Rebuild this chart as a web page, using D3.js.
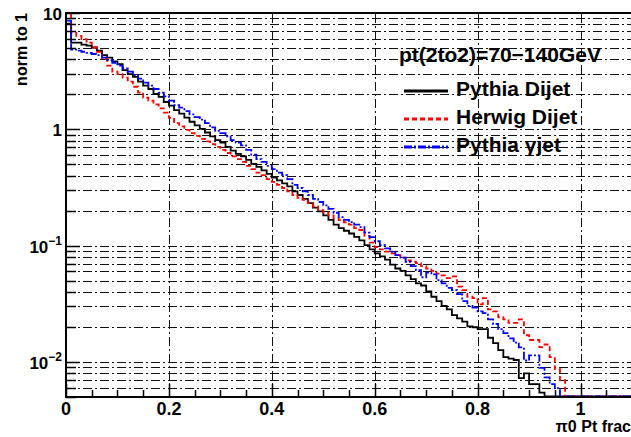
<!DOCTYPE html>
<html>
<head>
<meta charset="utf-8">
<script src="https://cdn.jsdelivr.net/npm/d3@7"></script>
<style>
  body { margin: 0; background: #fff; }
  text { font-family: 'Liberation Sans', Arial, sans-serif; font-weight: bold; fill: #000; }
</style>
</head>
<body>
<div id="chart"></div>
<script>
// histogram contents, one value per bin of width binWidth starting at 0
const binWidth = 0.01;

const pythiaDijet = [
  8.0, 5.5, 5.5, 5.3, 5.2, 5.0, 4.7, 4.3, 4.1, 3.8,
  3.6, 3.2, 2.95, 2.8, 2.55, 2.35, 2.2, 2.0, 1.88, 1.7,
  1.58, 1.45, 1.35, 1.25, 1.15, 1.07, 1.0, 0.93, 0.86, 0.80,
  0.76, 0.70, 0.65, 0.61, 0.58, 0.54, 0.50, 0.47, 0.44, 0.41,
  0.38, 0.36, 0.34, 0.32, 0.29, 0.27, 0.25, 0.23, 0.21, 0.195,
  0.18, 0.165, 0.15, 0.14, 0.133, 0.126, 0.118, 0.11, 0.10, 0.092,
  0.085, 0.08, 0.075, 0.068, 0.063, 0.060, 0.055, 0.051, 0.047, 0.045,
  0.040, 0.036, 0.033, 0.030, 0.028, 0.025, 0.0235, 0.022, 0.020, 0.0197,
  0.019, 0.019, 0.016, 0.0144, 0.0125, 0.0109, 0.0106, 0.0103, 0.0072, 0.0079,
  0.0064, 0.0064, 0.0054
];

const herwigDijet = [
  10.5, 6.7, 6.3, 5.9, 5.5, 5.0, 4.6, 4.0, 3.5, 3.1,
  2.95, 2.75, 2.55, 2.3, 2.05, 1.85, 1.75, 1.62, 1.5, 1.38,
  1.24, 1.12, 1.05, 0.98, 0.92, 0.87, 0.82, 0.78, 0.74, 0.70,
  0.66, 0.62, 0.58, 0.55, 0.52, 0.48, 0.45, 0.42, 0.40, 0.37,
  0.35, 0.33, 0.31, 0.29, 0.27, 0.255, 0.245, 0.23, 0.215, 0.20,
  0.19, 0.18, 0.17, 0.164, 0.157, 0.15, 0.14, 0.135, 0.12, 0.105,
  0.096, 0.092, 0.088, 0.085, 0.082, 0.078, 0.074, 0.072, 0.070, 0.066,
  0.063, 0.060, 0.057, 0.055, 0.052, 0.054, 0.044, 0.041, 0.036, 0.035,
  0.031, 0.035, 0.028, 0.027, 0.024, 0.023, 0.0215, 0.0215, 0.023, 0.0168,
  0.0153, 0.0153, 0.0133, 0.014, 0.0109, 0.0086, 0.0069
];

const pythiaGammaJet = [
  8.5, 4.8, 4.7, 4.6, 4.5, 4.4, 4.3, 4.1, 3.9, 3.7,
  3.5, 3.3, 3.1, 2.9, 2.7, 2.5, 2.35, 2.2, 2.05, 1.9,
  1.75, 1.6, 1.52, 1.42, 1.33, 1.26, 1.2, 1.12, 1.03, 0.96,
  0.92, 0.86, 0.80, 0.76, 0.72, 0.66, 0.60, 0.55, 0.52, 0.48,
  0.45, 0.42, 0.40, 0.37, 0.33, 0.31, 0.29, 0.27, 0.25, 0.235,
  0.22, 0.205, 0.19, 0.174, 0.165, 0.158, 0.15, 0.143, 0.128, 0.117,
  0.108, 0.10, 0.094, 0.088, 0.082, 0.078, 0.072, 0.066, 0.061, 0.053,
  0.058, 0.056, 0.050, 0.047, 0.043, 0.041, 0.038, 0.033, 0.030, 0.029,
  0.027, 0.026, 0.023, 0.021, 0.019, 0.0175, 0.0158, 0.0145, 0.0132, 0.0102,
  0.0113, 0.0113, 0.0088, 0.0073, 0.0064, 0.0059
];

const xTicks = [0, 0.2, 0.4, 0.6, 0.8, 1];
const xTickLabels = ['0', '0.2', '0.4', '0.6', '0.8', '1'];
const yDecades = [10, 1, 0.1, 0.01];
const yDecadeLabels = [['10', ''], ['1', ''], ['10', '\u22121'], ['10', '\u22122']];
const legendTitle = 'pt(2to2)=70\u2212140GeV';
const seriesNames = ['Pythia Dijet', 'Herwig Dijet', 'Pythia \u03b3jet'];
const xTitle = '\u03c00 Pt frac';
const yTitle = 'norm to 1';

const width = 631;
const height = 437;
const margins = {left: 66, top: 13, right: -1, bottom: 40};

const series = [
  {name: seriesNames[0], values: pythiaDijet, color: '#000', dash: null},
  {name: seriesNames[1], values: herwigDijet, color: '#ff0000', dash: '5,3'},
  {name: seriesNames[2], values: pythiaGammaJet, color: '#0000ff', dash: '8,2,2,2'},
];

const svg = d3.select('#chart')
  .append('svg')
  .attr('width', width)
  .attr('height', height)
  .style('background', '#fff');

const x = d3.scaleLinear()
  .domain([0, 1.1])
  .range([margins.left, width - margins.right]);

const y = d3.scaleLog()
  .domain([0.005, 10])
  .range([height - margins.bottom, margins.top]);

const [x0, x1] = x.range();
const [yb, yt] = y.range();

const isDecade = (t) => Math.abs(Math.log10(t) - Math.round(Math.log10(t))) < 1e-6;

// dash-dot grid, one line per log tick and per major x tick
const grid = svg.append('g').attr('class', 'grid')
  .attr('stroke', '#111')
  .attr('stroke-width', 1)
  .attr('stroke-dasharray', '9,3,2,3');

grid.selectAll('.hgrid')
  .data(y.ticks())
  .join('line')
  .attr('x1', x0).attr('x2', x1)
  .attr('y1', (d) => Math.round(y(d)) + 0.5)
  .attr('y2', (d) => Math.round(y(d)) + 0.5);

grid.selectAll('.vgrid')
  .data(xTicks.filter((d) => d > 0))
  .join('line')
  .attr('x1', (d) => Math.round(x(d)) + 0.5)
  .attr('x2', (d) => Math.round(x(d)) + 0.5)
  .attr('y1', yb).attr('y2', yt);

// clip the histograms to the frame
svg.append('clipPath').attr('id', 'frame')
  .append('rect')
  .attr('x', x0).attr('y', yt)
  .attr('width', x1 - x0).attr('height', yb - yt);

// ROOT-like outline: flat at each bin content, zero bins sit on the floor
const histPath = (values) => {
  const pts = values.map((v, i) => [i * binWidth, v]);
  pts.push([values.length * binWidth, 0], [x.domain()[1], 0]);
  return d3.line()
    .curve(d3.curveStepAfter)
    .x((d) => x(d[0]))
    .y((d) => y(Math.max(d[1], y.domain()[0])) - 0.5)(pts);
};

svg.append('g')
  .attr('clip-path', 'url(#frame)')
  .selectAll('path')
  .data(series)
  .join('path')
  .attr('d', (d) => histPath(d.values))
  .attr('fill', 'none')
  .attr('stroke', (d) => d.color)
  .attr('stroke-width', 1.8)
  .attr('stroke-dasharray', (d) => d.dash);

// axes: ticks point into the frame
const axes = svg.append('g').attr('stroke', '#000');

axes.selectAll('.ytick')
  .data(y.ticks())
  .join('line')
  .attr('x1', x0)
  .attr('x2', (d) => x0 + (isDecade(d) ? 14 : 10))
  .attr('y1', (d) => Math.round(y(d)) + 0.5)
  .attr('y2', (d) => Math.round(y(d)) + 0.5)
  .attr('stroke-width', 1.5);

axes.selectAll('.xtick')
  .data(d3.range(0, 22).map((i) => i * 0.05))
  .join('line')
  .attr('x1', (d) => Math.round(x(d)) + 0.5)
  .attr('x2', (d) => Math.round(x(d)) + 0.5)
  .attr('y1', yb)
  .attr('y2', (d, i) => yb - (i % 4 === 0 ? 13 : 7))
  .attr('stroke-width', 1.5);

axes.append('path')
  .attr('d', `M${x1},${yt}H${x0}V${yb}H${x1}`)
  .attr('fill', 'none')
  .attr('stroke-width', 2);

// tick labels
svg.append('g')
  .selectAll('text')
  .data(xTicks)
  .join('text')
  .attr('x', (d) => x(d))
  .attr('y', yb + 18)
  .attr('text-anchor', 'middle')
  .style('font-size', '18px')
  .text((d, i) => xTickLabels[i]);

const yLab = svg.append('g')
  .selectAll('text')
  .data(yDecades)
  .join('text')
  .attr('x', 62)
  .attr('y', (d) => y(d) + 7)
  .attr('text-anchor', 'end')
  .style('font-size', '17px');

yLab.append('tspan').text((d, i) => yDecadeLabels[i][0]);
yLab.append('tspan')
  .attr('dy', -8)
  .style('font-size', '12px')
  .text((d, i) => yDecadeLabels[i][1]);

// axis titles
svg.append('text')
  .attr('transform', `translate(27,${yt}) rotate(-90)`)
  .attr('text-anchor', 'end')
  .style('font-size', '16px')
  .text(yTitle);

svg.append('text')
  .attr('x', width)
  .attr('y', 432)
  .attr('text-anchor', 'end')
  .style('font-size', '16px')
  .text(xTitle);

// legend, no box: grid shows through
const legend = svg.append('g');

legend.append('text')
  .attr('x', 399)
  .attr('y', 62)
  .style('font-size', '21px')
  .text(legendTitle);

const rows = legend.selectAll('.row')
  .data(series)
  .join('g')
  .attr('transform', (d, i) => `translate(0,${i * 28})`);

rows.append('line')
  .attr('x1', 404).attr('x2', 448)
  .attr('y1', 91).attr('y2', 91)
  .attr('stroke', (d) => d.color)
  .attr('stroke-width', 3)
  .attr('stroke-dasharray', (d) => d.dash);

rows.append('text')
  .attr('x', 456)
  .attr('y', 96)
  .style('font-size', '21px')
  .text((d) => d.name);
</script>
</body>
</html>
